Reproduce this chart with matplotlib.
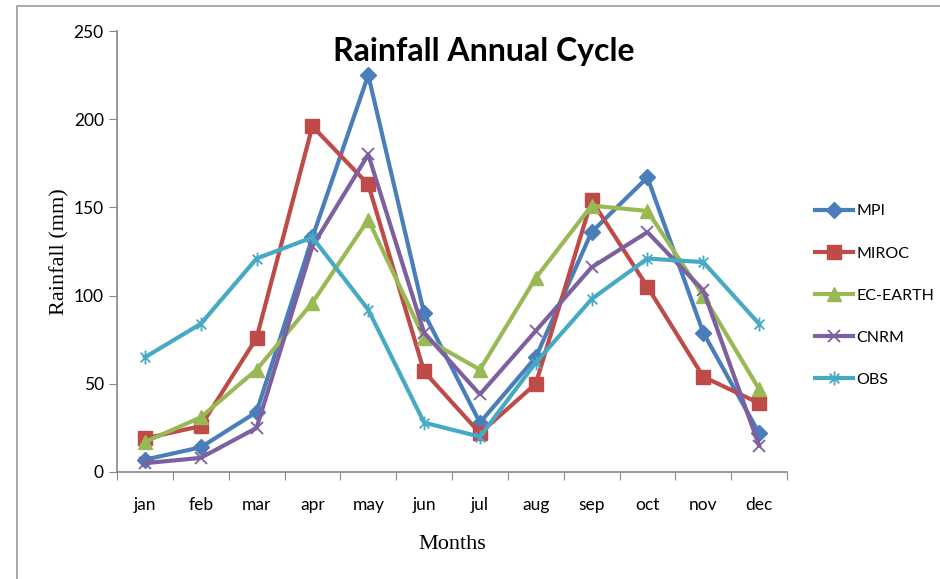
import matplotlib
matplotlib.use("Agg")
from matplotlib import pyplot as plt
from matplotlib.path import Path
import matplotlib.patches as patches
import numpy as np

months = ["jan", "feb", "mar", "apr", "may", "jun", "jul", "aug", "sep", "oct", "nov", "dec"]
mpi = [7, 14, 34, 133, 225, 90, 28, 65, 136, 167, 79, 22]
miroc = [19, 26, 76, 196, 163, 57, 22, 50, 154, 105, 54, 39]
ec_earth = [17, 31, 58, 96, 143, 76, 58, 110, 151, 148, 100, 47]
cnrm = [5, 8, 25, 128, 180, 79, 44, 80, 116, 136, 103, 15]
obs = [65, 84, 121, 133, 92, 28, 20, 62, 98, 121, 119, 84]

# excel style star: vertical bar plus an x
star = Path([(0, -1), (0, 1), (-0.7, -0.7), (0.7, 0.7), (-0.7, 0.7), (0.7, -0.7)],
            [Path.MOVETO, Path.LINETO, Path.MOVETO, Path.LINETO, Path.MOVETO, Path.LINETO])

series = [
    ("MPI", mpi, "#4a7ebb", "D", 8),
    ("MIROC", miroc, "#be4b48", "s", 9.5),
    ("EC-EARTH", ec_earth, "#98b954", "^", 10),
    ("CNRM", cnrm, "#7d60a0", "x", 9),
    ("OBS", obs, "#46aac5", star, 10),
]

fig = plt.figure(figsize=(9.4, 5.79), dpi=100)
ax = fig.add_axes([117/940, 1-472/579, 670/940, 441/579])

x = np.arange(len(months))
for name, vals, col, mk, ms in series:
    kw = dict(markerfacecolor=col, markeredgecolor=col)
    if mk == "x" or mk is star:
        kw["markeredgewidth"] = 1.3
    ax.plot(x, vals, color=col, linewidth=3, marker=mk, markersize=ms, label=name, **kw)

ax.set_xlim(-0.5, len(months)-0.5)
ax.set_ylim(0, 250)
ax.set_yticks(np.arange(0, 251, 50))
ax.set_xticks(np.arange(-0.5, len(months), 1))
ax.set_xticklabels([])
ax.set_xticks(x, minor=True)
ax.set_xticklabels(months, minor=True, fontsize=12.5, family="Lato")
ax.tick_params(axis="x", which="minor", length=0, pad=18)
ax.tick_params(axis="x", which="major", length=6, color="#888888", direction="out")
ax.tick_params(axis="y", length=6, color="#888888", direction="out", labelsize=12.5)
for lab in ax.get_yticklabels():
    lab.set_family("Lato")
for s in ["top", "right"]:
    ax.spines[s].set_visible(False)
for s in ["left", "bottom"]:
    ax.spines[s].set_color("#888888")
    ax.spines[s].set_linewidth(1.2)

ax.set_ylabel("Rainfall (mm)", family="Liberation Serif", fontsize=16, labelpad=3)
ax.set_xlabel("Months", family="Liberation Serif", fontsize=16, labelpad=16)

fig.text(484/940, 1-52/579, "Rainfall Annual Cycle", ha="center", va="center",
         fontsize=23, fontweight="bold", family="Lato")

ax.legend(loc="center left", bbox_to_anchor=(1.03, 0.40), frameon=False,
          labelspacing=1.75, handlelength=2.4, handletextpad=0.2, borderpad=0,
          prop={"family": "Lato", "size": 11.5})

# outer frame of the embedded chart
frame = patches.Rectangle((17/940, -0.1), 1.2, 1.1-6/579, transform=fig.transFigure,
                          fill=False, edgecolor="#999999", linewidth=1.2, clip_on=False)
fig.add_artist(frame)

fig.savefig("out.png", dpi=100)
